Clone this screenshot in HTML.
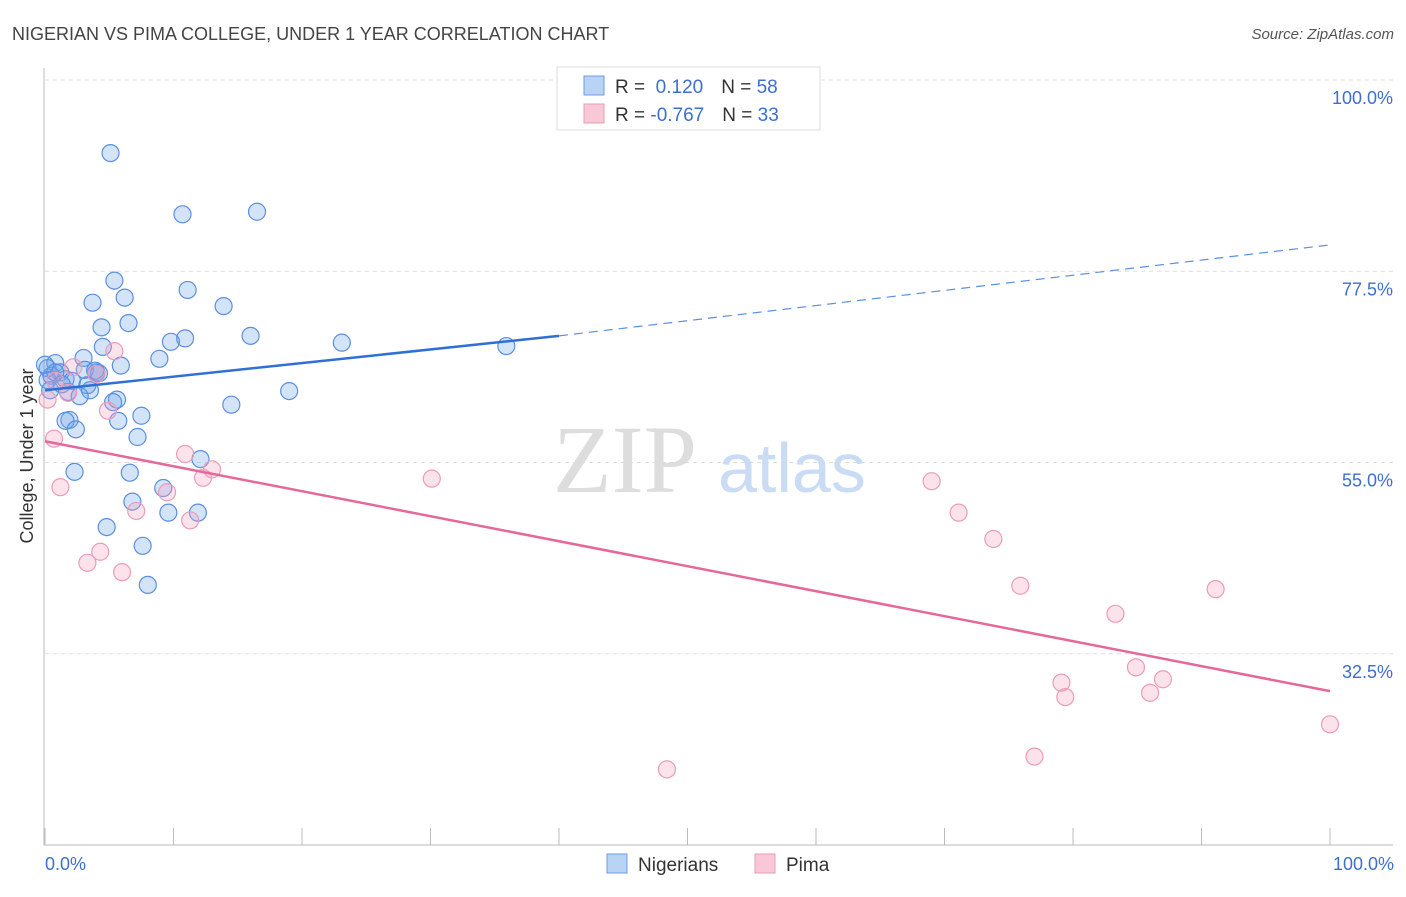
<!DOCTYPE html>
<html><head><meta charset="utf-8"><style>
body{margin:0;background:#fff;font-family:"Liberation Sans",sans-serif;}
</style></head><body>
<svg width="1406" height="892" xmlns="http://www.w3.org/2000/svg" font-family="Liberation Sans, sans-serif">
<text x="12" y="40" font-size="18" fill="#444">NIGERIAN VS PIMA COLLEGE, UNDER 1 YEAR CORRELATION CHART</text>
<text x="1394" y="39" font-size="15" fill="#555" font-style="italic" text-anchor="end">Source: ZipAtlas.com</text>
<g id="grid"></g>
<g><text x="553" y="492" font-size="96" fill="#ddd" font-family="Liberation Serif, serif">ZIP</text><text x="718" y="492" font-size="70" fill="#c9dcf3">atlas</text></g>
<line x1="44" y1="68" x2="44" y2="845" stroke="#bbb"/>
<line x1="44" y1="845" x2="1393" y2="845" stroke="#bbb"/>
<g id="xticks"></g>
<g id="ylabels"></g>
<text x="45" y="870" font-size="18" fill="#3d6fcf">0.0%</text>
<text x="1394" y="870" font-size="18" fill="#3d6fcf" text-anchor="end">100.0%</text>
<text transform="translate(33,456) rotate(-90)" font-size="18" fill="#333" text-anchor="middle">College, Under 1 year</text>
<g id="pts"></g>
<g id="trends"></g>
<g>
<rect x="557" y="67" width="263" height="63" fill="#fff" stroke="#ddd"/>
<rect x="584" y="76" width="20" height="19" fill="#b9d3f5" stroke="#6a9be0"/>
<rect x="584" y="104" width="20" height="19" fill="#f9c8d7" stroke="#e99ab5"/>
<text x="615" y="93" font-size="19" fill="#333">R = <tspan fill="#3d6fcf">&#160;0.120</tspan><tspan dx="18">N = </tspan><tspan fill="#3d6fcf">58</tspan></text>
<text x="615" y="121" font-size="19" fill="#333">R = <tspan fill="#3d6fcf">-0.767</tspan><tspan dx="18">N = </tspan><tspan fill="#3d6fcf">33</tspan></text>
</g>
<g>
<rect x="607" y="854" width="20" height="19" fill="#b9d3f5" stroke="#6a9be0"/>
<text x="638" y="871" font-size="19" fill="#333">Nigerians</text>
<rect x="755" y="854" width="20" height="19" fill="#f9c8d7" stroke="#e99ab5"/>
<text x="786" y="871" font-size="19" fill="#333">Pima</text>
</g>
</svg>
<script>
const yTicks=[100,77.5,55,32.5];
const yTickLabels=["100.0%","77.5%","55.0%","32.5%"];
const xTicks=[0,10,20,30,40,50,60,70,80,90,100];
const nigX=[5.1,10.7,16.5,5.4,11.1,6.2,3.7,13.9,4.4,6.5,16.0,10.9,9.8,23.1,35.9,4.5,8.9,3.0,0.8,5.9,0.2,1.2,4.0,4.2,0.5,1.6,2.1,3.3,3.5,1.8,2.7,5.6,5.3,19.0,14.5,7.5,5.7,1.9,1.6,2.4,7.2,12.1,2.3,6.6,9.2,6.8,11.9,9.6,4.8,7.6,8.0,0.2,0.8,1.3,3.1,3.9,0,0.4];
const nigY=[91.4,84.2,84.5,76.4,75.3,74.4,73.8,73.4,70.9,71.4,69.9,69.6,69.2,69.1,68.7,68.6,67.2,67.3,66.7,66.4,66.1,65.6,65.6,65.5,65.2,64.8,64.6,64.1,63.5,63.3,62.8,62.4,62.1,63.4,61.8,60.5,59.9,60.0,59.9,58.9,58.0,55.4,53.9,53.8,52.0,50.4,49.1,49.1,47.4,45.2,40.6,64.7,65.6,64.2,65.9,65.8,66.5,63.5];
const pimaX=[5.4,2.2,0.8,4.0,0.2,4.9,0.7,10.9,13.0,12.3,30.1,9.5,1.2,7.1,11.3,69.0,71.1,73.8,4.3,3.3,6.0,75.9,91.1,83.3,84.9,87.0,79.1,79.4,86.0,100,48.4,77.0,1.8];
const pimaY=[68.1,66.2,64.6,65.4,62.4,61.1,57.8,56.0,54.2,53.2,53.1,51.5,52.1,49.3,48.2,52.8,49.1,46.0,44.5,43.2,42.1,40.5,40.1,37.2,30.9,29.5,29.1,27.4,27.9,24.2,18.9,20.4,63.2];
const nigTrend=[0,63.5,40,69.9,100,80.6];
const pimaTrend=[0,57.5,100,28.1];
const NS="http://www.w3.org/2000/svg";
const sx=v=>45+v*12.85, sy=v=>80+(100-v)*8.5;
function mk(t,a,p){const e=document.createElementNS(NS,t);for(const k in a)e.setAttribute(k,a[k]);p.appendChild(e);return e;}
const grid=document.getElementById('grid'),yl=document.getElementById('ylabels');
yTicks.forEach((v,i)=>{
 const l=mk('line',{x1:45,x2:1393,y1:sy(v),y2:sy(v),stroke:'#ddd','stroke-dasharray':'4,4'},grid);
 
 
 const t=mk('text',{x:1393,y:sy(v)+24,'font-size':18,fill:'#3d6fcf','text-anchor':'end'},yl);
 t.textContent=yTickLabels[i];
 
 
});
const xt=document.getElementById('xticks');
xTicks.forEach(v=>{const l=mk('line',{x1:sx(v),x2:sx(v),y1:828,y2:845,stroke:'#bbb'},xt);
 
 });
const pts=document.getElementById('pts');
nigX.forEach((x,i)=>{const c=mk('circle',{cx:sx(x),cy:sy(nigY[i]),r:8.5,fill:'rgba(110,165,235,0.3)',stroke:'#5b8fe0','stroke-width':1.2},pts);
 
 });
pimaX.forEach((x,i)=>{const c=mk('circle',{cx:sx(x),cy:sy(pimaY[i]),r:8.5,fill:'rgba(245,160,190,0.3)',stroke:'#eb9cb8','stroke-width':1.2},pts);
 
 });
const tr=document.getElementById('trends');
let a=mk('line',{x1:sx(nigTrend[0]),y1:sy(nigTrend[1]),x2:sx(nigTrend[2]),y2:sy(nigTrend[3]),stroke:'#2f6fd6','stroke-width':2.5},tr);


a=mk('line',{x1:sx(nigTrend[2]),y1:sy(nigTrend[3]),x2:sx(nigTrend[4]),y2:sy(nigTrend[5]),stroke:'#5b8fe0','stroke-width':1.2,'stroke-dasharray':'9,6'},tr);


a=mk('line',{x1:sx(pimaTrend[0]),y1:sy(pimaTrend[1]),x2:sx(pimaTrend[2]),y2:sy(pimaTrend[3]),stroke:'#e6689a','stroke-width':2.5},tr);


</script>
</body></html>
